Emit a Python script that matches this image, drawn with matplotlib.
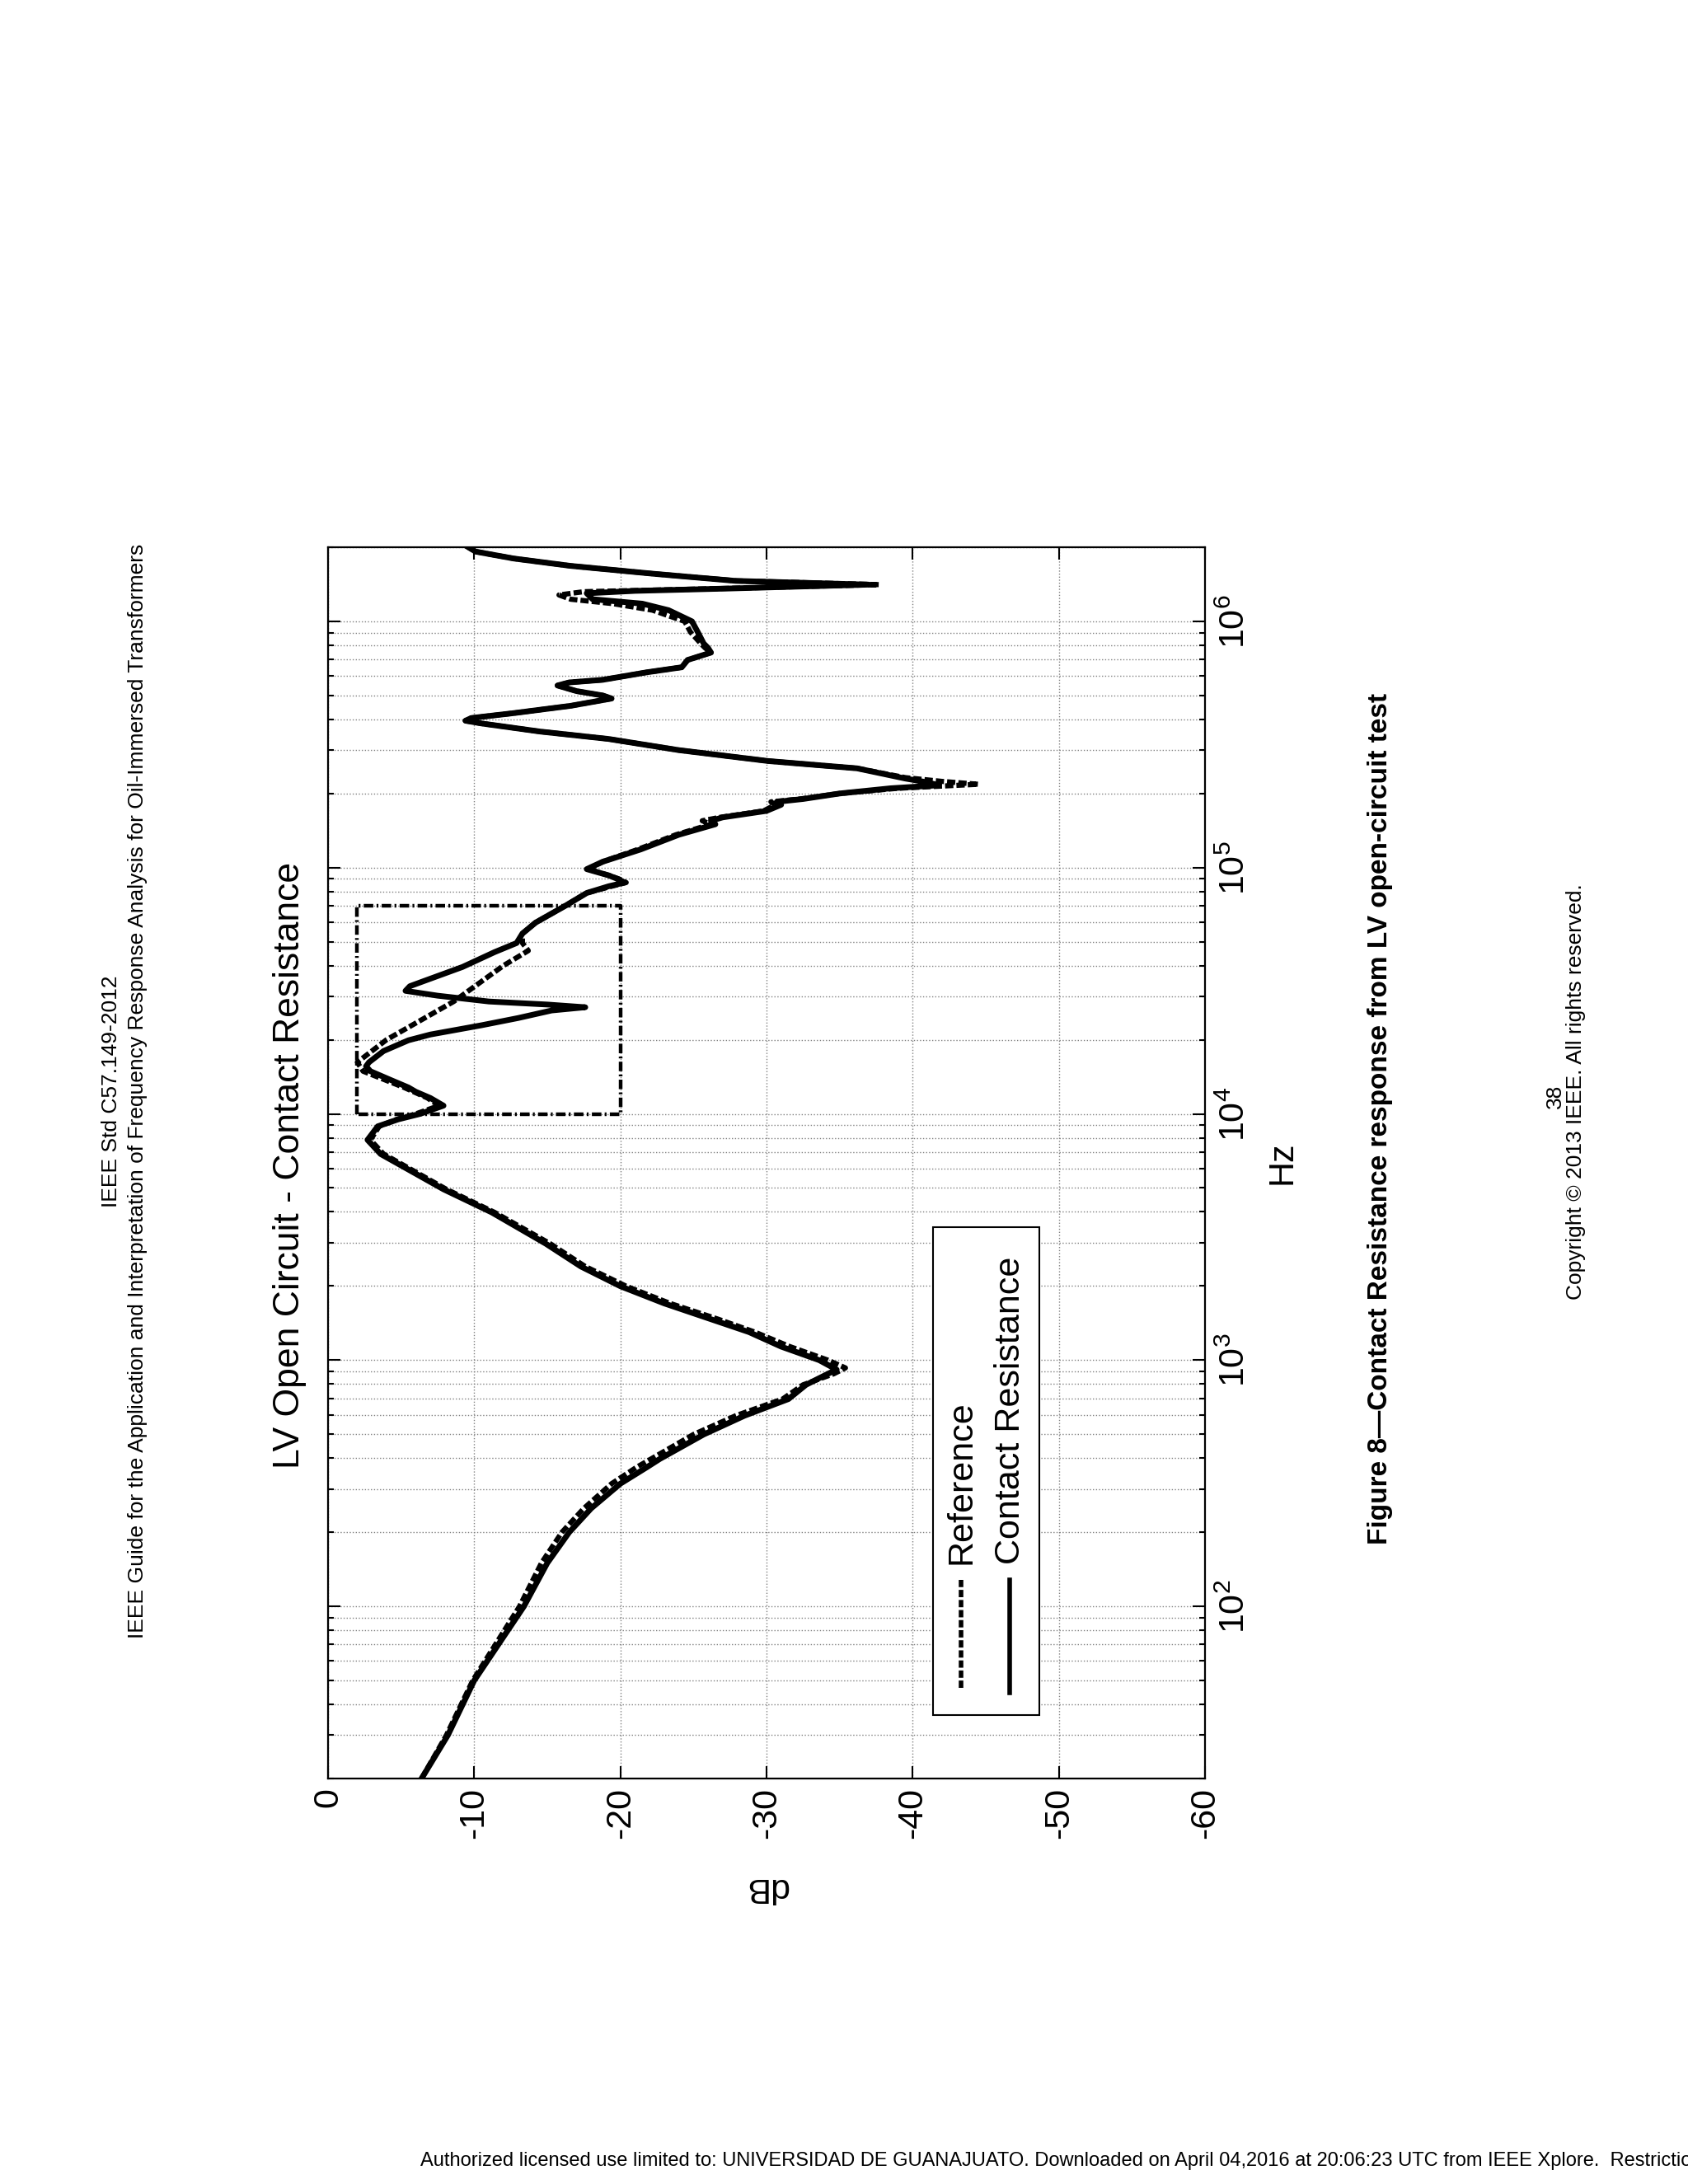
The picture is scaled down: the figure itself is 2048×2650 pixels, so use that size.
import matplotlib
matplotlib.use("Agg")
import matplotlib.pyplot as plt
import matplotlib.ticker as mticker
from matplotlib.patches import Rectangle
from matplotlib.lines import Line2D
import numpy as np

plt.rcParams["font.family"] = ["Liberation Sans", "DejaVu Sans"]
plt.rcParams["axes.unicode_minus"] = False
plt.rcParams["mathtext.default"] = "regular"

# --- data (frequency in Hz, magnitude in dB) ---
cr_freq = [20, 30, 50, 100, 150, 200, 250, 315, 367, 397, 499, 595, 695, 794,
           880, 915, 1000, 1135, 1300, 1466, 1700, 1996, 2400, 2970, 3980,
           4940, 5940, 6870, 7840, 8900, 9500, 10000, 10800, 11600, 12300,
           12800, 13800, 14900, 15600, 16200, 18000, 19900, 21000, 22900,
           24500, 26300, 27100, 27800, 28600, 30200, 31600, 33000, 34700,
           39500, 45400, 49400, 54000, 59800, 69800, 78900, 84000, 87000,
           90000, 93000, 98600, 105700, 118600, 136000, 150000, 155000,
           160000, 170000, 180000, 185000, 190000, 200000, 210000, 216000,
           222000, 230000, 253000, 271000, 300000, 333000, 357000, 385000,
           395000, 405000, 424000, 454000, 486000, 500000, 521000, 549000,
           565000, 579000, 621000, 651000, 697000, 747000, 780000, 813000,
           904000, 1000000, 1110000, 1180000, 1230000, 1300000, 1330000,
           1360000, 1410000, 1460000, 1560000, 1680000, 1800000, 1920000,
           2000000]
cr_db = [-6.4, -8.2, -10.0, -13.4, -15.0, -16.5, -18.0, -20.0, -21.8, -22.7,
         -25.7, -28.5, -31.5, -32.7, -34.2, -34.8, -33.6, -31.0, -28.8,
         -26.2, -23.0, -20.0, -17.3, -14.9, -11.2, -7.9, -5.5, -3.6, -2.7,
         -3.4, -4.8, -6.3, -7.9, -7.0, -6.0, -5.5, -4.2, -2.9, -2.6, -2.8,
         -3.8, -5.5, -7.0, -10.5, -13.0, -15.3, -17.6, -15.0, -11.0, -7.5,
         -5.3, -5.6, -6.6, -9.2, -11.4, -12.9, -13.3, -14.2, -16.2, -17.7,
         -19.2, -20.3, -19.8, -19.2, -17.7, -18.8, -21.4, -24.0, -26.5,
         -26.2, -27.0, -30.0, -31.0, -30.7, -32.5, -35.0, -38.5, -41.8,
         -41.0, -39.5, -36.2, -30.1, -24.0, -19.2, -14.5, -10.5, -9.4, -9.8,
         -12.7, -16.6, -19.4, -18.8, -17.0, -15.7, -16.5, -18.8, -21.8,
         -24.2, -24.6, -26.2, -26.0, -25.7, -25.3, -24.9, -23.3, -21.5,
         -18.1, -17.7, -21.0, -27.5, -37.0, -27.9, -22.3, -16.6, -12.7,
         -10.1, -9.6]

ref_freq = [20, 30, 50, 100, 150, 200, 250, 315, 367, 397, 499, 595, 695, 794,
            880, 930, 1000, 1135, 1300, 1466, 1700, 1996, 2400, 2970, 3980,
            4940, 5940, 6870, 7840, 8900, 9500, 10000, 10800, 11600, 12800,
            14900, 16200, 20000, 28600, 40000, 46000, 49400, 54000, 59800,
            69800, 78900, 84000, 87000, 90000, 93000, 98600, 105700, 118600,
            136000, 150000, 155000, 160000, 170000, 180000, 185000, 190000,
            200000, 210000, 218000, 224000, 232000, 253000, 271000, 300000,
            333000, 357000, 385000, 395000, 405000, 424000, 454000, 486000,
            500000, 521000, 549000, 565000, 579000, 621000, 651000, 697000,
            747000, 780000, 813000, 904000, 1000000, 1110000, 1180000,
            1230000, 1280000, 1320000, 1360000, 1410000, 1460000, 1560000,
            1680000, 1800000, 1920000, 2000000]
ref_db = [-6.4, -8.1, -9.9, -13.1, -14.6, -16.0, -17.5, -19.4, -21.1, -22.1,
          -25.0, -27.9, -31.1, -32.5, -34.6, -35.4, -34.2, -31.6, -29.2,
          -26.7, -23.4, -20.4, -17.6, -15.2, -11.4, -8.1, -5.7, -3.8, -2.9,
          -3.5, -4.7, -6.0, -7.6, -6.8, -5.2, -2.4, -2.0, -4.0, -8.6, -12.0,
          -13.7, -13.3, -13.3, -14.2, -16.2, -17.7, -19.4, -20.4, -19.9,
          -19.2, -17.8, -18.8, -21.2, -23.8, -26.2, -25.6, -26.8, -29.8,
          -30.6, -30.3, -32.3, -35.0, -39.0, -44.5, -42.0, -39.5, -36.2,
          -30.1, -24.0, -19.2, -14.5, -10.5, -9.4, -9.8, -12.7, -16.6, -19.4,
          -18.8, -17.0, -15.7, -16.5, -18.8, -21.8, -24.2, -24.6, -26.2,
          -25.8, -25.5, -24.8, -24.4, -22.2, -19.5, -16.6, -15.8, -17.5,
          -27.0, -37.7, -28.0, -22.3, -16.6, -12.7, -10.1, -9.6]

# zoomed region marked on the plot
box_freq = [1e4, 7e4, 7e4, 1e4, 1e4]
box_db = [-2, -2, -20, -20, -2]

db_ticks = [0, -10, -20, -30, -40, -50, -60]
series_names = ["Reference", "Contact Resistance"]

W, H = 2048, 2650
fig = plt.figure(figsize=(W / 100, H / 100), dpi=100)
fig.patch.set_facecolor("white")


def fx(x):
    return x / W


def fy(y):
    return 1 - y / H


ax = fig.add_axes([fx(398), fy(2158), (1462 - 398) / W, (2158 - 664) / H])

# the page is printed in landscape: frequency runs upward, dB to the right
ax.plot(ref_db, ref_freq, color="black", lw=4.5, ls=(0, (1.6, 0.6)), zorder=3)
ax.plot(cr_db, cr_freq, color="black", lw=5, zorder=4,
        solid_joinstyle="round")
ax.plot(box_db, box_freq, color="black", lw=3.2, ls=(0, (2.6, 0.9, 0.5, 0.9)),
        zorder=2)

ax.set_yscale("log")
ax.set_ylim(20, 2e6)
ax.set_xlim(0, -60)
ax.set_xticks(db_ticks)
ax.yaxis.set_major_locator(mticker.LogLocator(base=10, numticks=12))
ax.yaxis.set_minor_locator(mticker.LogLocator(base=10, subs=np.arange(2, 10),
                                              numticks=100))
ax.yaxis.set_minor_formatter(mticker.NullFormatter())

ax.tick_params(axis="x", which="major", direction="in", length=11, width=1.5,
               labelsize=31, labelrotation=90, pad=8, top=True, bottom=True,
               labeltop=False, labelbottom=True)
ax.tick_params(axis="y", which="major", direction="in", length=11, width=1.5,
               labelsize=31, labelrotation=90, pad=12, left=True, right=True,
               labelleft=False, labelright=True)
ax.tick_params(axis="y", which="minor", direction="in", length=5, width=1.5,
               left=True, right=True)
for lab in ax.get_yticklabels():
    lab.set_verticalalignment("center")

ax.grid(True, which="both", axis="y", ls=":", color="0.5", lw=1)
ax.grid(True, which="major", axis="x", ls=":", color="0.5", lw=1)
for sp in ax.spines.values():
    sp.set_linewidth(1.6)

# legend, drawn by hand because it is turned with the page
ax.add_patch(Rectangle((0.690, 0.0515), 0.121, 0.3965, transform=ax.transAxes,
                       facecolor="white", edgecolor="black", lw=1.5, zorder=6))
ax.add_line(Line2D([0.722, 0.722], [0.0736, 0.161], transform=ax.transAxes,
                   color="black", lw=4, ls=(0, (1.6, 0.6)), zorder=7))
ax.add_line(Line2D([0.777, 0.777], [0.0696, 0.161], transform=ax.transAxes,
                   color="black", lw=4, zorder=7))
ax.text(0.722, 0.174, series_names[0], transform=ax.transAxes, rotation=90,
        ha="center", va="bottom", fontsize=31, zorder=7)
ax.text(0.778, 0.174, series_names[1], transform=ax.transAxes, rotation=90,
        ha="center", va="bottom", fontsize=31, zorder=7)

fig.text(fx(352), fy(1414), "LV Open Circuit - Contact Resistance",
         rotation=90, ha="center", va="center", fontsize=32)
fig.text(fx(1556), fy(1411), "Hz", rotation=90, ha="center", va="center",
         fontsize=31)
fig.text(fx(930), fy(2290), "dB", rotation=180, ha="center", va="center",
         fontsize=31)

# page furniture
fig.text(fx(135), fy(1324), "IEEE Std C57.149-2012", rotation=90,
         ha="center", va="center", fontsize=19)
fig.text(fx(167), fy(1324),
         "IEEE Guide for the Application and Interpretation of Frequency "
         "Response Analysis for Oil-Immersed Transformers",
         rotation=90, ha="center", va="center", fontsize=19)
fig.text(fx(1675), fy(1357),
         "Figure 8\u2014Contact Resistance response from LV open-circuit test",
         rotation=90, ha="center", va="center", fontsize=24,
         fontweight="bold")
fig.text(fx(1887), fy(1330), "38", rotation=90, ha="center", va="center",
         fontsize=19)
fig.text(fx(1912), fy(1325), "Copyright \u00a9 2013 IEEE. All rights reserved.",
         rotation=90, ha="center", va="center", fontsize=19)
fig.text(fx(510), fy(2622),
         "Authorized licensed use limited to: UNIVERSIDAD DE GUANAJUATO. "
         "Downloaded on April 04,2016 at 20:06:23 UTC from IEEE Xplore.  "
         "Restrictions apply.",
         ha="left", va="center", fontsize=17)

fig.savefig("out.png", dpi=100, facecolor="white")
